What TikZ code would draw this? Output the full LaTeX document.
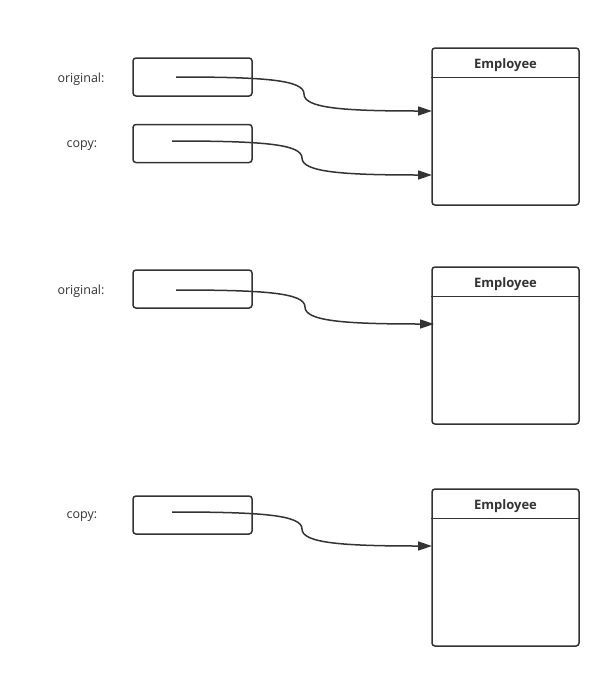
\documentclass[tikz,border=0pt]{standalone}
\usepackage{fontspec}
\setmainfont{Open Sans}
\usetikzlibrary{arrows.meta,calc}
\definecolor{ink}{HTML}{333333}
\tikzset{
    lbl/.style={text=ink,font=\fontsize{12.5}{14}\selectfont,inner sep=0pt,yshift=-2pt},
    ref/.style={draw=ink,line width=1.5pt,rounded corners=3pt,minimum width=119pt,minimum height=38pt,inner sep=0pt},
    cls/.style={draw=ink,line width=1.5pt,rounded corners=3pt,minimum width=147pt,minimum height=157pt,inner sep=0pt},
    ttl/.style={text=ink,font=\bfseries\fontsize{13}{15}\selectfont,inner sep=0pt,yshift=-2pt},
    link/.style={draw=ink,line width=1.5pt,-{Triangle[length=14pt,width=9pt]}},
  }
\begin{document}
\begin{tikzpicture}[x=1pt,y=-1pt]
				  \useasboundingbox (0,0) rectangle (611,678);
				  %top : original and copy share one object
				  \node[lbl](l1) at (81,77) {original:};
				  \node[lbl](l2) at (82,144) {copy:};
				  \node[ref](r1) at (192.5,77) {};
				  \node[ref](r2) at (192.5,143.5) {};
				  \node[cls](c1) at (505.5,126.5) {};
				  \node[ttl](t1) at (505.5,63) {Employee};
				  \draw[ink,line width=1.5pt] ([yshift=-30pt]c1.north west) -- ([yshift=-30pt]c1.north east);
				  \coordinate(o1) at (176,77);
				  \coordinate(e1) at (432,111);
				  \coordinate(o2) at (172,141);
				  \coordinate(e2) at (432,175);
				  \path (o1) -- (e1) coordinate[pos=.5](m1);
				  \path (o2) -- (e2) coordinate[pos=.5](m2);
				  \draw[link] (o1) .. controls +(90,0) and +(0,-14) .. (m1) .. controls +(0,14) and +(-90,0) .. (e1);
				  \draw[link] (o2) .. controls +(90,0) and +(0,-14) .. (m2) .. controls +(0,14) and +(-90,0) .. (e2);
				  %middle : original alone
				  \node[lbl](l3) at (81,289) {original:};
				  \node[ref](r3) at (192.5,289) {};
				  \node[cls](c2) at (505.5,345.5) {};
				  \node[ttl](t2) at (505.5,282) {Employee};
				  \draw[ink,line width=1.5pt] ([yshift=-30pt]c2.north west) -- ([yshift=-30pt]c2.north east);
				  \coordinate(o3) at (176,290);
				  \coordinate(e3) at (434,324);
				  \path (o3) -- (e3) coordinate[pos=.5](m3);
				  \draw[link] (o3) .. controls +(90,0) and +(0,-14) .. (m3) .. controls +(0,14) and +(-90,0) .. (e3);
				  %bottom : copy alone
				  \node[lbl](l4) at (82,515) {copy:};
				  \node[ref](r4) at (192.5,515) {};
				  \node[cls](c3) at (505.5,567.5) {};
				  \node[ttl](t3) at (505.5,504) {Employee};
				  \draw[ink,line width=1.5pt] ([yshift=-30pt]c3.north west) -- ([yshift=-30pt]c3.north east);
				  \coordinate(o4) at (172,512);
				  \coordinate(e4) at (432,546);
				  \path (o4) -- (e4) coordinate[pos=.5](m4);
				  \draw[link] (o4) .. controls +(90,0) and +(0,-14) .. (m4) .. controls +(0,14) and +(-90,0) .. (e4);
				  \end{tikzpicture}
\end{document}
